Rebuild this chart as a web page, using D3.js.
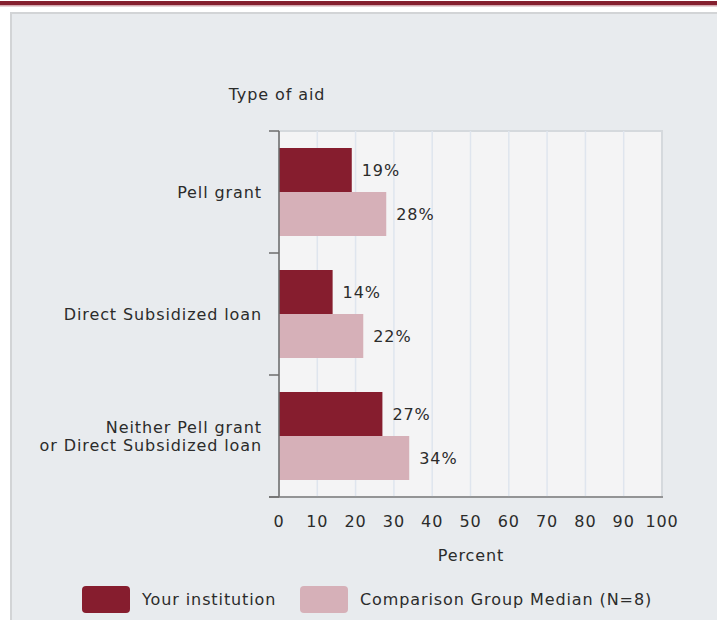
<!DOCTYPE html>
<html><head><meta charset="utf-8">
<script src="https://cdn.jsdelivr.net/npm/d3@7"></script>
<style>
html,body{margin:0;padding:0;background:#fff;}
svg text{font-family:"DejaVu Sans",sans-serif;font-size:16px;fill:#2b2b2b;letter-spacing:0.9px;}
</style></head>
<body>
<svg id="chart" width="717" height="620"></svg>
<script>
const categories = ["Pell grant", "Direct Subsidized loan", "Neither Pell grant\nor Direct Subsidized loan"];
const seriesNames = ["Your institution", "Comparison Group Median (N=8)"];
const yourInstitution = [19, 14, 27];
const comparisonMedian = [28, 22, 34];
const xTicks = [0,10,20,30,40,50,60,70,80,90,100];
const colors = ["#861d2e", "#d6b0b8"];

(function(){
const svg = d3.select("#chart");
// top band
svg.append("rect").attr("x",0).attr("y",1).attr("width",717).attr("height",4).attr("fill","#85202f");
svg.append("rect").attr("x",0).attr("y",5).attr("width",717).attr("height",1.5).attr("fill","#d3a9b0");
// panel
svg.append("rect").attr("x",11).attr("y",13).attr("width",720).attr("height",620)
  .attr("fill","#e8ebee").attr("stroke","#d2d4d6").attr("stroke-width",2);

const pl = 279, pr = 662, pt = 131, pb = 497;
const x = d3.scaleLinear().domain([0,100]).range([pl,pr]);
const y = d3.scaleBand().domain(categories).range([pt,pb]).padding(0);
const inner = d3.scaleBand().domain(seriesNames).range([17, y.bandwidth()-17]).padding(0);

// plot bg
svg.append("rect").attr("x",pl).attr("y",pt).attr("width",pr-pl).attr("height",pb-pt)
  .attr("fill","#f4f4f5").attr("stroke","#d5d9dd").attr("stroke-width",2);
// grid
svg.append("g").selectAll("line").data(xTicks.slice(1,-1)).join("line")
  .attr("x1",d=>x(d)).attr("x2",d=>x(d)).attr("y1",pt).attr("y2",pb)
  .attr("stroke","#dfe5ee").attr("stroke-width",1.5);

// bars
const data = categories.map((c,i)=>({cat:c, vals:[yourInstitution[i], comparisonMedian[i]]}));
const g = svg.append("g");
data.forEach(d=>{
  d.vals.forEach((v,j)=>{
    const by = y(d.cat)+inner(seriesNames[j]);
    g.append("rect").attr("x",x(0)).attr("y",by).attr("width",x(v)-x(0)).attr("height",inner.bandwidth())
      .attr("fill",colors[j]);
    g.append("text").attr("x",x(v)+10).attr("y",by+inner.bandwidth()/2).attr("dy","0.35em").text(v+"%");
  });
});

// axes lines
svg.append("line").attr("x1",pl).attr("x2",pl).attr("y1",pt).attr("y2",pb).attr("stroke","#6d6d6d").attr("stroke-width",1.5);
svg.append("line").attr("x1",pl-10).attr("x2",pr+1).attr("y1",pb).attr("y2",pb).attr("stroke","#7d7d7d").attr("stroke-width",1.5);
const bounds = categories.map(c=>y(c)).concat([pb]);
svg.append("g").selectAll("line").data(bounds).join("line")
  .attr("x1",pl-10).attr("x2",pl).attr("y1",d=>d).attr("y2",d=>d).attr("stroke","#6d6d6d").attr("stroke-width",1.5);

// x tick labels
svg.append("g").selectAll("text").data(xTicks).join("text")
  .attr("x",d=>x(d)).attr("y",521).attr("dy","0.35em").attr("text-anchor","middle").text(d=>d);
svg.append("text").attr("x",471).attr("y",555).attr("dy","0.35em").attr("text-anchor","middle").text("Percent");
svg.append("text").attr("x",277).attr("y",94).attr("dy","0.35em").attr("text-anchor","middle").text("Type of aid");

// category labels
categories.forEach(c=>{
  const lines = c.split("\n");
  const cy = y(c)+y.bandwidth()/2;
  const t = svg.append("text").attr("text-anchor","end");
  lines.forEach((l,i)=>{
    t.append("tspan").attr("x",262).attr("y",cy + (i-(lines.length-1)/2)*18).attr("dy","0.35em").text(l);
  });
});

// legend
const legX = [82, 300];
seriesNames.forEach((s,i)=>{
  svg.append("rect").attr("x",legX[i]).attr("y",586).attr("width",48).attr("height",27).attr("rx",4).attr("fill",colors[i]);
  svg.append("text").attr("x",legX[i]+60).attr("y",599).attr("dy","0.35em").text(s);
});
})();
</script>
</body></html>
